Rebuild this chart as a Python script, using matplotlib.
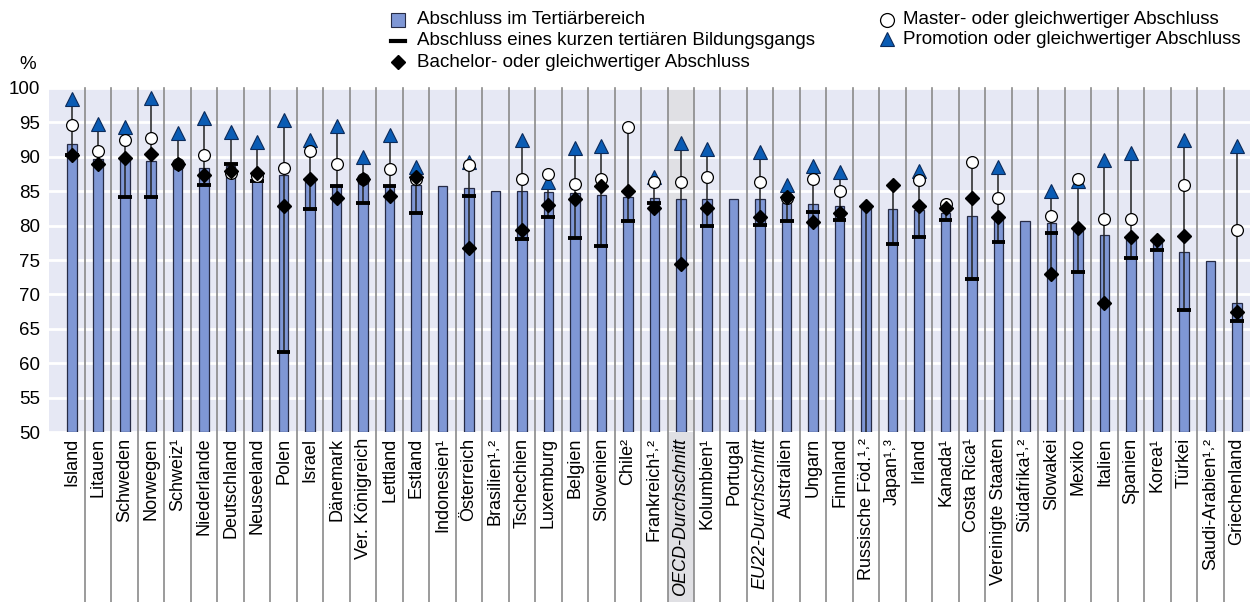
import numpy as np
import matplotlib
matplotlib.use('Agg')
import matplotlib.pyplot as plt
from matplotlib.lines import Line2D
import matplotlib.transforms as mtransforms

plt.rcParams['font.family'] = ['Liberation Sans', 'DejaVu Sans']

countries = ['Island', 'Litauen', 'Schweden', 'Norwegen', 'Schweiz¹', 'Niederlande', 'Deutschland',
             'Neuseeland', 'Polen', 'Israel', 'Dänemark', 'Ver. Königreich', 'Lettland', 'Estland',
             'Indonesien¹', 'Österreich', 'Brasilien¹˒²', 'Tschechien', 'Luxemburg', 'Belgien',
             'Slowenien', 'Chile²', 'Frankreich¹˒²', 'OECD-Durchschnitt', 'Kolumbien¹', 'Portugal',
             'EU22-Durchschnitt', 'Australien', 'Ungarn', 'Finnland', 'Russische Föd.¹˒²', 'Japan¹˒³',
             'Irland', 'Kanada¹', 'Costa Rica¹', 'Vereinigte Staaten', 'Südafrika¹˒²', 'Slowakei',
             'Mexiko', 'Italien', 'Spanien', 'Korea¹', 'Türkei', 'Saudi-Arabien¹˒²', 'Griechenland']

nan = np.nan
tertiary = [91.9, 89.7, 89.6, 89.4, 88.6, 88.4, 88.6, 86.5, 87.3, 86.5, 85.8, 86.6, 85.7, 85.9,
            85.8, 85.5, 85.1, 85.0, 84.9, 84.7, 84.5, 84.2, 84.0, 83.9, 83.9, 83.9, 83.9, 83.3,
            83.1, 82.9, 82.7, 82.4, 82.2, 81.8, 81.4, 81.0, 80.7, 80.4, 79.9, 78.7, 78.0, 77.7,
            76.2, 74.9, 68.8]
short_cycle = [90.2, nan, 84.2, 84.2, nan, 85.9, 88.9, 86.5, 61.6, 82.4, 85.8, 83.3, 85.7, 81.8,
               nan, 84.3, nan, 78.0, 81.2, 78.2, 77.1, 80.7, 83.3, nan, 80.0, nan, 80.1, 80.7,
               82.0, 80.8, 45.0, 77.4, 78.4, 80.8, 72.2, 77.6, nan, 78.9, 73.3, nan, 75.3, 76.5,
               67.8, nan, 66.2]
bachelor = [90.3, 89.0, 89.8, 90.4, 88.9, 87.4, 87.9, 87.7, 82.9, 86.8, 84.0, 86.8, 84.3, 87.0,
            nan, 76.7, nan, 79.3, 83.0, 83.8, 85.7, 85.1, 82.5, 74.4, 82.5, nan, 81.3, 84.1,
            80.5, 81.8, 82.8, 85.9, 82.8, 82.5, 84.0, 81.3, nan, 73.0, 79.7, 68.8, 78.3, 77.9,
            78.5, nan, 67.5]
master = [94.6, 90.8, 92.5, 92.7, 88.9, 90.2, 87.6, 87.2, 88.4, 90.9, 89.0, 86.7, 88.2, 86.7,
          nan, 88.8, nan, 86.8, 87.5, 86.0, 86.8, 94.3, 86.4, 86.3, 87.0, nan, 86.3, 84.0,
          86.8, 85.1, nan, nan, 86.6, 83.2, 89.2, 84.0, nan, 81.4, 86.8, 81.0, 81.0, nan,
          85.9, nan, 79.3]
doctorate = [98.4, 94.7, 94.3, 98.6, 93.4, 95.6, 93.6, 92.2, 95.4, 92.5, 94.4, 90.0, 93.1, 88.5,
             nan, 89.2, nan, 92.5, 86.3, 91.3, 91.5, nan, 87.0, 92.0, 91.1, nan, 90.7, 85.9,
             88.6, 87.8, nan, nan, 87.9, nan, nan, 88.5, nan, 85.1, 86.5, 89.6, 90.6, nan,
             92.5, nan, 91.5]

bar_col = '#7f97d5'
bg_col = '#e6e8f4'
tri_col = '#0a5cb4'

fig = plt.figure(figsize=(12.5, 6.02), dpi=100)
ax = fig.add_axes([0.039, 0.282, 0.961, 0.572])
ax.set_facecolor(bg_col)
x = np.arange(len(countries))

ax.set_xlim(-0.87, len(countries) - 0.5)
ax.set_ylim(50, 100)
ax.set_yticks(np.arange(50, 101, 5))
ax.grid(axis='y', color='white', lw=2, zorder=0)
ax.set_axisbelow(True)
for s in ax.spines.values():
    s.set_visible(False)

trans = mtransforms.blended_transform_factory(ax.transData, ax.transAxes)
# OECD column shading
oecd = countries.index('OECD-Durchschnitt')
ax.add_patch(plt.Rectangle((oecd - 0.5, -0.5), 1, 1.5, transform=trans, color='#e0e0e4',
                           clip_on=False, zorder=0.5, lw=0))
# separators
for i in range(len(countries) - 1):
    ax.plot([i + 0.5, i + 0.5], [-0.5, 1], transform=trans, color='#8a8a8a', lw=1.2,
            clip_on=False, zorder=1)

ax.bar(x, np.array(tertiary) - 50, bottom=50, width=0.36, color=bar_col, edgecolor='#262b45',
       lw=0.9, zorder=2)

vals = np.array([short_cycle, bachelor, master, doctorate], dtype=float)
lo = np.nanmin(vals, axis=0)
hi = np.nanmax(vals, axis=0)
for i in x:
    if not np.isnan(lo[i]) and hi[i] > lo[i]:
        ax.plot([i, i], [lo[i], hi[i]], color='#222222', lw=1.1, zorder=3)

sc = np.array(short_cycle)
ax.hlines(sc, x - 0.26, x + 0.26, color='black', lw=2.8, zorder=4)
ax.plot(x, doctorate, ls='none', marker='^', ms=10, color=tri_col, mec='#0b2a5a', mew=0.8, zorder=5)
ax.plot(x, master, ls='none', marker='o', ms=8.5, mfc='white', mec='black', mew=0.9, zorder=6)
ax.plot(x, bachelor, ls='none', marker='D', ms=7, color='black', zorder=7)

ax.set_xticks(x)
ax.set_xticklabels(countries, rotation=90, fontsize=13, va='top', ha='center')
for lab in ax.get_xticklabels():
    if 'Durchschnitt' in lab.get_text():
        lab.set_style('italic')
ax.tick_params(axis='x', length=0, pad=4)
ax.tick_params(axis='y', length=0, labelsize=13.5, pad=6)
ax.text(-0.0175, 1.067, '%', transform=ax.transAxes, fontsize=13.5, ha='center', va='center')

# legend
lf = dict(fontsize=13.5, va='center')
lx, rx = 0.3336, 0.7224
fig.text(lx, 0.967, 'Abschluss im Tertiärbereich', **lf)
fig.text(lx, 0.932, 'Abschluss eines kurzen tertiären Bildungsgangs', **lf)
fig.text(lx, 0.897, 'Bachelor- oder gleichwertiger Abschluss', **lf)
fig.text(rx, 0.967, 'Master- oder gleichwertiger Abschluss', **lf)
fig.text(rx, 0.935, 'Promotion oder gleichwertiger Abschluss', **lf)
fig.add_artist(plt.Rectangle((0.3128, 0.955), 0.0112, 0.023, transform=fig.transFigure,
                             facecolor=bar_col, edgecolor='#262b45', lw=0.8))
fig.add_artist(Line2D([0.3128, 0.324], [0.932, 0.932], transform=fig.transFigure, color='black', lw=3))
fig.add_artist(Line2D([0.3184], [0.897], transform=fig.transFigure, marker='D', ms=7, color='black'))
fig.add_artist(Line2D([0.7096], [0.967], transform=fig.transFigure, marker='o', ms=10,
                      mfc='white', mec='black', mew=0.9))
fig.add_artist(Line2D([0.7096], [0.935], transform=fig.transFigure, marker='^', ms=10,
                      color=tri_col, mec='#0b2a5a', mew=0.8))

fig.savefig('out.png', dpi=100)
